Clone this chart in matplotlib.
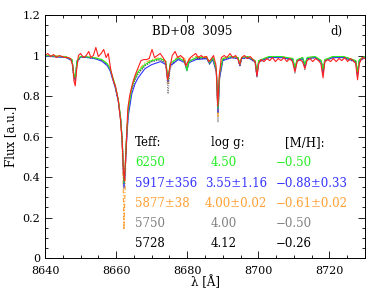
import matplotlib
matplotlib.use("Agg")
import matplotlib.pyplot as plt
from matplotlib.ticker import MultipleLocator

plt.rcParams['font.family'] = ['DejaVu Serif']
plt.rcParams['mathtext.fontset'] = 'dejavuserif'

# model grid (Angstrom)
wl_model = [8640.0, 8643.0, 8646.0, 8647.6, 8648.1, 8648.5, 8649.0, 8650.0,
            8652.0, 8654.0, 8656.0, 8657.5, 8658.3, 8659.0, 8659.7, 8660.6, 8661.3, 8661.7,
            8662.0, 8662.2, 8662.5, 8662.8, 8663.1, 8663.4, 8664.4, 8665.3, 8666.2, 8668.1,
            8670.0, 8672.5,
            8674.0, 8674.6, 8675.2,
            8677.5, 8679.3, 8679.9, 8680.5, 8682.5, 8685.5, 8686.3, 8687.2, 8688.2, 8688.65,
            8689.1, 8690.0, 8692.5, 8694.3, 8694.8, 8695.3, 8697.0, 8699.1, 8699.6, 8700.1,
            8703.0, 8706.5, 8709.7, 8710.3, 8710.9, 8712.5, 8713.1, 8713.7, 8716.0, 8717.7,
            8718.2, 8718.7, 8721.0, 8724.0, 8727.4, 8727.9, 8728.4, 8730.0]

flux_5728 = [0.998, 0.995, 0.99, 0.975, 0.90, 0.88, 0.97, 0.993,
             0.99, 0.985, 0.975, 0.955, 0.93, 0.89, 0.85, 0.78, 0.68, 0.58,
             0.46, 0.37, 0.42, 0.55, 0.64, 0.72, 0.83, 0.88, 0.91, 0.95,
             0.97, 0.98,
             0.96, 0.86, 0.95,
             0.985, 0.975, 0.94, 0.975, 0.985, 0.985, 0.96, 0.985, 0.92, 0.72,
             0.90, 0.98, 0.99, 0.985, 0.95, 0.985, 0.99, 0.97, 0.90, 0.97,
             0.99, 0.99, 0.98, 0.93, 0.975, 0.985, 0.95, 0.985, 0.99, 0.97,
             0.92, 0.975, 0.99, 0.99, 0.97, 0.91, 0.975, 0.99]

flux_5750 = [0.995, 0.993, 0.99, 0.97, 0.88, 0.86, 0.965, 0.992,
             0.99, 0.985, 0.975, 0.955, 0.93, 0.89, 0.85, 0.78, 0.68, 0.57,
             0.44, 0.34, 0.40, 0.54, 0.63, 0.72, 0.83, 0.88, 0.91, 0.95,
             0.97, 0.98,
             0.955, 0.81, 0.94,
             0.985, 0.975, 0.935, 0.975, 0.985, 0.985, 0.955, 0.985, 0.91, 0.67,
             0.88, 0.975, 0.99, 0.985, 0.945, 0.985, 0.99, 0.965, 0.89, 0.965,
             0.99, 0.99, 0.975, 0.91, 0.97, 0.985, 0.93, 0.98, 0.99, 0.965,
             0.90, 0.97, 0.99, 0.99, 0.965, 0.89, 0.97, 0.99]

flux_6250 = [1.0, 0.997, 0.993, 0.98, 0.91, 0.89, 0.975, 0.995,
             0.993, 0.988, 0.98, 0.96, 0.935, 0.895, 0.855, 0.785, 0.69, 0.59,
             0.47, 0.37, 0.43, 0.56, 0.65, 0.73, 0.84, 0.89, 0.92, 0.955,
             0.975, 0.985,
             0.97, 0.88, 0.96,
             0.99, 0.97, 0.925, 0.97, 0.99, 0.99, 0.965, 0.99, 0.93, 0.74,
             0.91, 0.985, 0.995, 0.99, 0.955, 0.99, 0.995, 0.975, 0.92, 0.975,
             0.995, 0.995, 0.985, 0.94, 0.98, 0.99, 0.955, 0.99, 0.995, 0.975,
             0.93, 0.98, 0.995, 0.995, 0.975, 0.92, 0.98, 0.995]

flux_5917 = [0.997, 0.994, 0.99, 0.975, 0.90, 0.88, 0.97, 0.992,
             0.99, 0.985, 0.972, 0.95, 0.925, 0.885, 0.845, 0.775, 0.68, 0.58,
             0.45, 0.35, 0.41, 0.53, 0.62, 0.70, 0.81, 0.86, 0.89, 0.935,
             0.955, 0.97,
             0.955, 0.87, 0.95,
             0.98, 0.965, 0.925, 0.965, 0.98, 0.985, 0.96, 0.98, 0.92, 0.72,
             0.89, 0.975, 0.99, 0.985, 0.95, 0.985, 0.99, 0.97, 0.90, 0.97,
             0.99, 0.99, 0.98, 0.93, 0.975, 0.985, 0.945, 0.985, 0.99, 0.97,
             0.915, 0.975, 0.99, 0.99, 0.97, 0.905, 0.975, 0.99]

flux_5877 = [1.0, 0.998, 0.995, 0.98, 0.90, 0.875, 0.975, 0.996,
             0.993, 0.99, 0.98, 0.96, 0.935, 0.895, 0.855, 0.78, 0.67, 0.55,
             0.35, 0.14, 0.32, 0.53, 0.64, 0.73, 0.84, 0.895, 0.925, 0.965,
             0.98, 0.99,
             0.97, 0.86, 0.96,
             0.995, 0.985, 0.94, 0.985, 0.995, 0.995, 0.965, 0.99, 0.92, 0.70,
             0.90, 0.985, 0.995, 0.99, 0.955, 0.99, 0.995, 0.975, 0.90, 0.975,
             0.995, 0.995, 0.985, 0.93, 0.98, 0.99, 0.945, 0.99, 0.995, 0.975,
             0.91, 0.98, 0.995, 0.995, 0.975, 0.90, 0.98, 0.995]

# observed spectrum
wl_obs = [8640.0, 8640.8, 8641.6, 8642.4, 8643.2, 8644.0, 8644.8, 8645.6, 8646.4, 8647.2,
          8647.8, 8648.2, 8648.5, 8648.9, 8649.4, 8650.0, 8650.8, 8651.6, 8652.3, 8652.9,
          8653.6, 8654.3, 8655.0, 8655.8, 8656.5, 8657.2, 8657.8, 8658.5, 8659.3, 8659.8,
          8660.6, 8661.2, 8661.7, 8662.0, 8662.3, 8662.7, 8663.3, 8663.8, 8664.3, 8664.9,
          8665.5, 8666.2, 8667.0, 8667.8, 8668.5, 8669.3, 8670.1, 8670.8, 8671.6, 8672.4,
          8673.2, 8673.9, 8674.5, 8675.1, 8675.8, 8676.6, 8677.3, 8678.1, 8678.8, 8679.6,
          8680.2, 8680.9, 8681.6, 8682.4, 8683.1, 8683.9, 8684.6, 8685.4, 8686.1, 8686.6,
          8687.4, 8688.1, 8688.6, 8689.0, 8689.6, 8690.4, 8691.2, 8692.0, 8692.8, 8693.6,
          8694.3, 8694.8, 8695.3, 8696.1, 8696.9, 8697.7, 8698.5, 8699.1, 8699.6, 8700.1,
          8700.8, 8701.6, 8702.4, 8703.2, 8704.0, 8704.8, 8705.6, 8706.4, 8707.2, 8708.0,
          8708.8, 8709.6, 8710.3, 8710.9, 8711.6, 8712.4, 8713.1, 8713.7, 8714.5, 8715.3,
          8716.1, 8716.9, 8717.6, 8718.2, 8718.7, 8719.5, 8720.3, 8721.1, 8721.9, 8722.7,
          8723.5, 8724.3, 8725.1, 8725.9, 8726.7, 8727.4, 8727.9, 8728.4, 8729.2, 8730.0]
flux_obs = [1.00, 1.01, 0.995, 1.005, 0.99, 1.00, 0.995, 0.99, 0.99, 0.985,
            0.95, 0.87, 0.85, 0.93, 1.00, 1.01, 0.99, 1.00, 1.02, 0.99,
            1.00, 1.04, 0.995, 1.01, 1.03, 0.99, 1.01, 0.93, 0.87, 0.85,
            0.78, 0.69, 0.58, 0.45, 0.38, 0.50, 0.74, 0.80, 0.84, 0.88,
            0.91, 0.94, 0.975, 0.98, 0.98, 0.985, 1.03, 0.99, 1.00, 1.01,
            0.99, 0.97, 0.88, 0.94, 1.00, 1.02, 0.99, 1.00, 0.99, 0.95,
            0.97, 0.99, 1.00, 1.01, 0.99, 1.00, 0.99, 0.995, 0.97, 0.98,
            1.00, 0.95, 0.75, 0.90, 0.99, 1.00, 0.99, 1.01, 0.99, 1.00,
            0.98, 0.955, 0.99, 1.00, 0.985, 0.995, 0.98, 0.97, 0.90, 0.96,
            0.98, 0.97, 0.985, 0.975, 0.99, 0.97, 0.985, 0.975, 0.99, 0.97,
            0.985, 0.97, 0.92, 0.97, 0.98, 0.97, 0.935, 0.975, 0.985, 0.97,
            0.985, 0.975, 0.96, 0.89, 0.97, 0.98, 0.97, 0.985, 0.97, 0.985,
            0.975, 0.99, 0.97, 0.985, 0.975, 0.96, 0.88, 0.96, 0.99, 0.985]

# parameter table
teff = ["6250", "5917\u00b1356", "5877\u00b138", "5750", "5728"]
logg = ["4.50", "3.55\u00b11.16", "4.00\u00b10.02", "4.00", "4.12"]
mh = ["\u22120.50", "\u22120.88\u00b10.33", "\u22120.61\u00b10.02", "\u22120.50", "\u22120.26"]
row_colors = ["#22ee22", "#3333ff", "#ffa033", "#808080", "#000000"]

fig = plt.figure(figsize=(3.89, 2.91), dpi=100)
ax = fig.add_axes([0.1157, 0.1134, 0.8226, 0.835])

ax.plot(wl_model, flux_5728, color="black", lw=0.8, ls=(0, (1, 1.2)))
ax.plot(wl_model, flux_5750, color="#808080", lw=0.8, ls=(0, (1, 1.2)))
ax.plot(wl_model, flux_5877, color="#ffa033", lw=0.8, ls=(0, (4, 1.5, 1, 1.5)))
ax.plot(wl_model, flux_5917, color="#3333ff", lw=0.8)
ax.plot(wl_model, flux_6250, color="#22ee22", lw=0.8)
ax.plot(wl_obs, flux_obs, color="#ff2020", lw=0.8)

ax.set_xlim(8640, 8730)
ax.set_ylim(0, 1.2)
ax.xaxis.set_major_locator(MultipleLocator(20))
ax.xaxis.set_minor_locator(MultipleLocator(5))
ax.yaxis.set_major_locator(MultipleLocator(0.2))
ax.yaxis.set_minor_locator(MultipleLocator(0.05))
ax.tick_params(which="both", direction="in", top=True, right=True, labelsize=8, width=0.6)
ax.tick_params(which="major", length=5)
ax.tick_params(which="minor", length=2.5)
ax.tick_params(axis="x", pad=5.5)
ax.set_yticks([0, 0.2, 0.4, 0.6, 0.8, 1.0, 1.2])
ax.set_yticklabels(["0", "0.2", "0.4", "0.6", "0.8", "1", "1.2"])
for s in ax.spines.values():
    s.set_linewidth(0.7)

ax.set_xlabel("\u03bb [\u00c5]", fontsize=8.5, labelpad=0)
ax.set_ylabel("Flux [a.u.]", fontsize=8.5, labelpad=4)

ax.text(8670.1, 1.12, "BD+08  3095", fontsize=8.5, va="center")
ax.text(8723.8, 1.12, "d)", fontsize=8.5, va="center", ha="right")

ax.text(8665.3, 0.57, "Teff:", fontsize=8.5, va="center")
ax.text(8686.6, 0.57, "log g:", fontsize=8.5, va="center")
ax.text(8707.5, 0.57, "[M/H]:", fontsize=8.5, va="center")
for i in range(len(teff)):
    y = 0.47 - 0.1 * i
    c = row_colors[i]
    ax.text(8665.3, y, teff[i], color=c, fontsize=8.5, va="center")
    xg = 8685.0 if "\u00b1" in logg[i] else 8686.6
    ax.text(xg, y, logg[i], color=c, fontsize=8.5, va="center")
    ax.text(8705.0, y, mh[i], color=c, fontsize=8.5, va="center")

fig.savefig("out.png", dpi=100)
